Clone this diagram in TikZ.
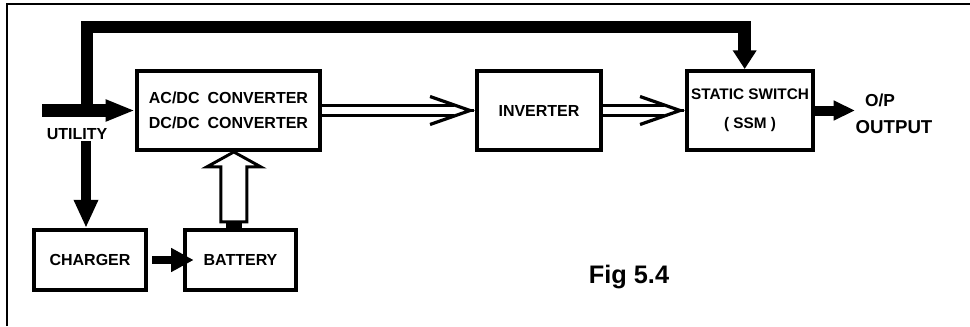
\documentclass[tikz,border=0pt]{standalone}
\usepackage{fontspec}
\setmainfont{Liberation Sans}
\usetikzlibrary{arrows.meta,positioning}

\begin{document}
\begin{tikzpicture}[x=0.75pt, y=-0.75pt, every node/.style={align=center, font=\bfseries\fontsize{12}{19}\selectfont},
  block/.style={draw, line width=3.2pt, inner sep=0pt},
  bus/.style={line width=9.5pt},
  dbl/.style={double, double distance=5pt, line width=2.2pt, shorten >=16pt},
  barb/.style={line width=2.4pt, -{Straight Barb[length=30pt, width=21pt]}}]
\useasboundingbox (0,0) rectangle (970,326);
\draw[line width=1.5pt] (7,326) -- (7,4) -- (970,4);
\node[block, minimum width=137pt, minimum height=59pt, align=left] (acdc) at (228.5,110.5) {AC/DC\enspace CONVERTER\\DC/DC\enspace CONVERTER};
\node[block, minimum width=93pt, minimum height=59pt] (inv) at (539,110.5) {INVERTER};
\node[block, minimum width=94.5pt, minimum height=59pt, font=\bfseries\fontsize{11.5}{22}\selectfont] (ssw) at (750,110.5) {STATIC SWITCH\\( SSM )};
\node[block, minimum width=84pt, minimum height=45pt] (chg) at (90,260) {CHARGER};
\node[block, minimum width=83pt, minimum height=45pt] (bat) at (240.5,260) {BATTERY};
\node (util) at (77,134) {UTILITY};
\node[font=\bfseries\fontsize{13}{13}\selectfont] (op) at (880,100) {O/P};
\node[font=\bfseries\fontsize{14}{14}\selectfont] (out) at (894,127) {OUTPUT};
\node[font=\bfseries\fontsize{19}{19}\selectfont] (fig) at (629,277) {Fig 5.4};
% utility feed and bypass line
\coordinate (src) at (42,110.5);
\coordinate (tap) at (87,110.5);
\coordinate (top) at (87,27);
\draw[bus, -{Triangle[length=22pt, width=15pt]}] (src) -- (acdc.west);
\draw[bus, -{Triangle[length=14pt, width=17pt]}] (tap) -- (top) -| ([xshift=-4]ssw.north);
\coordinate (drop) at (86,141);
\draw[line width=8pt, -{Triangle[length=21pt, width=17pt]}] (drop) -- (drop |- chg.north);
\draw[line width=5.5pt, -{Triangle[length=17pt, width=17pt]}] ([xshift=3]chg.east) -- ([xshift=8]bat.west);
% battery to converter (hollow)
\coordinate (hb) at ([xshift=-5]bat.north);
\fill ([shift={(-8,-7)}]hb) rectangle ([shift={(8,0)}]hb);
\draw[line width=2.2pt, fill=white] ([shift={(-13,-6)}]hb) -- ([shift={(-13,-61)}]hb) -- ([shift={(-27,-61)}]hb) -- (hb |- acdc.south) -- ([shift={(27,-61)}]hb) -- ([shift={(13,-61)}]hb) -- ([shift={(13,-6)}]hb) -- cycle;
% dc path, double lines
\draw[dbl] (acdc.east) -- (inv.west);
\draw[barb] ([xshift=-1]inv.west) -- (inv.west);
\draw[dbl] (inv.east) -- (ssw.west);
\draw[barb] ([xshift=-1]ssw.west) -- (ssw.west);
\coordinate (outtip) at (855,110.5);
\draw[line width=7.5pt, -{Triangle[length=16pt, width=14pt]}] (ssw.east) -- (outtip);
\end{tikzpicture}
\end{document}
